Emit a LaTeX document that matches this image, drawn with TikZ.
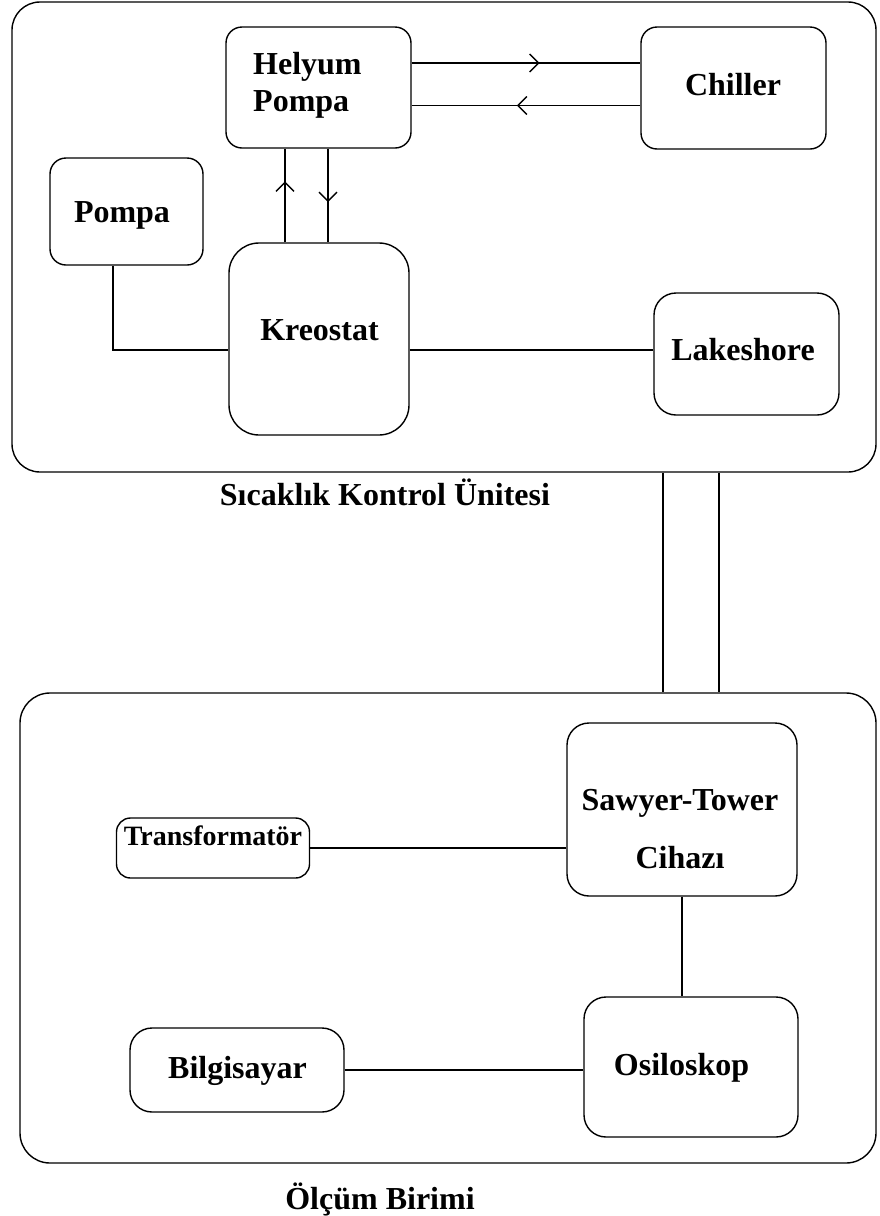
\documentclass[tikz,border=0pt]{standalone}
\usepackage{fontspec}
\setmainfont{Liberation Serif}
\usepackage{tikz}
\usetikzlibrary{positioning,arrows.meta,decorations.markings}

\begin{document}
\begin{tikzpicture}[
  x=1pt, y=-1pt,
  blok/.style={draw, line width=1.4pt, rounded corners=#1, inner sep=0pt},
  blok/.default=16pt,
  etiket/.style={font=\bfseries\fontsize{32}{37}\selectfont, align=center, inner sep=0pt, anchor=base},
  hat/.style={line width=1.4pt},
  okhat/.style={hat, postaction={decorate}, decoration={markings,
      mark=at position #1 with {\arrow{Straight Barb[length=9pt,width=18pt,line width=1.4pt]}}}},
]
  \useasboundingbox (0,0) rectangle (880,1216);

  % Sicaklik kontrol unitesi
  \node[blok=28pt, minimum width=864pt, minimum height=470pt] (sck) at (444,237) {};
  \node[blok, minimum width=185pt, minimum height=121pt] (hp) at (318.5,87.5) {};
  \node[blok, minimum width=185pt, minimum height=122pt] (ch) at (733.5,88) {};
  \node[blok, minimum width=153pt, minimum height=107pt] (pm) at (126.5,211.5) {};
  \node[blok=30pt, minimum width=180pt, minimum height=192pt] (kr) at (319,339) {};
  \node[blok=22pt, minimum width=185pt, minimum height=122pt] (lk) at (746.5,354) {};

  \node[etiket, align=left, anchor=base west] (hp-txt) at (253,111) {Helyum\\Pompa};
  \node[etiket] (ch-txt) at (733,95) {Chiller};
  \node[etiket] (pm-txt) at (122,222) {Pompa};
  \node[etiket] (kr-txt) at (319.5,340) {Kreostat};
  \node[etiket] (lk-txt) at (743,360) {Lakeshore};
  \node[etiket] (sck-txt) at (385,505) {Sıcaklık Kontrol Ünitesi};

  % Olcum birimi
  \node[blok=30pt, minimum width=856pt, minimum height=470pt] (olc) at (448,928) {};
  \node[blok=22pt, minimum width=230pt, minimum height=173pt] (st) at (682,809.5) {};
  \node[blok=14pt, minimum width=193pt, minimum height=60pt] (tr) at (213,848) {};
  \node[blok=22pt, minimum width=214pt, minimum height=140pt] (os) at (691,1067) {};
  \node[blok=22pt, minimum width=214pt, minimum height=84pt] (bg) at (237,1070) {};

  \node[etiket, font=\bfseries\fontsize{32}{58}\selectfont] (st-txt) at (680,868) {Sawyer-Tower\\Cihazı};
  \node[etiket, font=\bfseries\fontsize{28}{37}\selectfont] (tr-txt) at (213,845) {Transformatör};
  \node[etiket] (os-txt) at (681.5,1075) {Osiloskop};
  \node[etiket] (bg-txt) at (237.5,1078) {Bilgisayar};
  \node[etiket] (olc-txt) at (380,1209) {Ölçüm Birimi};

  % baglantilar
  \draw[okhat=0.56] ([yshift=24.5pt]hp.east) -- ([yshift=24.5pt]hp.east -| ch.west);
  \draw[okhat=0.54] ([yshift=-17.5pt]ch.west) -- ([yshift=-17.5pt]ch.west -| hp.east);
  \draw[okhat=0.65] ([xshift=-34pt]kr.north) -- ([xshift=-34pt]kr.north |- hp.south);
  \draw[okhat=0.57] ([xshift=9.5pt]hp.south) -- ([xshift=9.5pt]hp.south |- kr.north);
  \draw[hat] ([xshift=-13.5pt]pm.south) |- ([yshift=-11pt]kr.west);
  \draw[hat] ([yshift=-11pt]kr.east) -- ([yshift=-11pt]kr.east -| lk.west);

  \coordinate (busA) at (663,0);
  \coordinate (busB) at (719,0);
  \draw[hat] (sck.south -| busA) -- (olc.north -| busA);
  \draw[hat] (sck.south -| busB) -- (olc.north -| busB);

  \draw[hat] (tr.east) -- (tr.east -| st.west);
  \draw[hat] (st.south) -- (st.south |- os.north);
  \draw[hat] (bg.east) -- (bg.east -| os.west);
\end{tikzpicture}
\end{document}
